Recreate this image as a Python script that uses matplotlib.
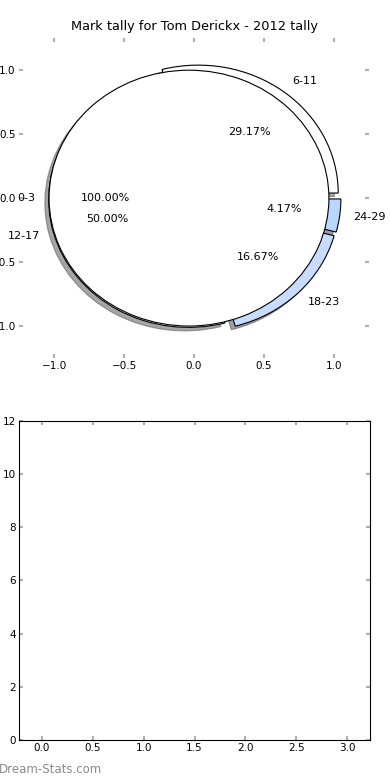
import numpy as np
import matplotlib
matplotlib.use("Agg")
import matplotlib.pyplot as plt

# tally per age band
full_labels = ["0-3"]
full_counts = [24]
band_labels = ["6-11", "12-17", "18-23", "24-29"]
band_counts = [7, 12, 4, 1]
band_colors = ["#ffffff", "#ffffff", "#c8dcff", "#b7d7ff"]

title = "Mark tally for Tom Derickx - 2012 tally"
bar_positions = [0, 1, 2, 3]
bar_heights = [0, 0, 0, 0]

plt.rcParams["font.size"] = 8
tick_color = "#b0b0b0"

fig = plt.figure(figsize=(3.9, 7.8), dpi=100)

ax1 = fig.add_axes([0.049, 0.541, 0.897, 0.41])
ax1.pie(band_counts, labels=band_labels, colors=band_colors, explode=[0.05, 0.04, 0.05, 0.05],
        autopct="%1.2f%%", shadow=True, wedgeprops=dict(edgecolor="black", linewidth=0.8))
ax1.pie(full_counts, labels=full_labels, colors=["#ffffff"], explode=[0.036],
        autopct="%1.2f%%", shadow=False, wedgeprops=dict(edgecolor="black", linewidth=0.8))
ax1.set_aspect("auto")
ax1.set_frame_on(False)
ax1.set_xlim(-1.25, 1.25)
ax1.set_ylim(-1.25, 1.25)
ticks = np.arange(-1.0, 1.01, 0.5)
ax1.set_xticks(ticks)
ax1.set_yticks(ticks)
ax1.set_title(title, fontsize=9.3)

ax2 = fig.add_axes([0.049, 0.0513, 0.9, 0.409])
ax2.bar(bar_positions, bar_heights, width=0.45, color="none", edgecolor="none")
ax2.set_xlim(-0.225, 3.225)
ax2.set_ylim(0, max(band_counts))

for ax in (ax1, ax2):
    ax.tick_params(direction="in", length=3, width=1.5, color=tick_color,
                   top=True, right=True, labelsize=7.5, pad=2.5)

fig.text(-0.004, 0.013, "Dream-Stats.com", color="#8a8a8a", fontsize=8.5, ha="left", va="center")

fig.savefig("out.png", dpi=100)
